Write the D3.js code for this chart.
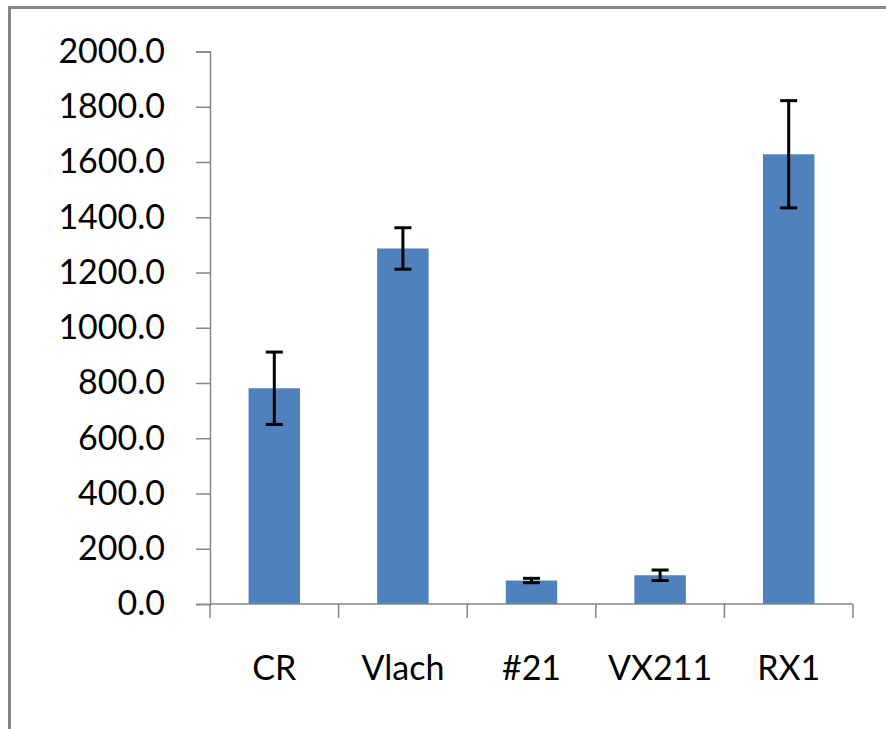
<!DOCTYPE html>
<html><head><meta charset="utf-8">
<script src="https://cdn.jsdelivr.net/npm/d3@7/dist/d3.min.js"></script>
<style>body{margin:0;background:#fff}svg{display:block}</style>
</head><body>
<svg id="c" width="886" height="729"></svg>
<script>
const categories = ["CR", "Vlach", "#21", "VX211", "RX1"];
const values = [781, 1287, 85, 104, 1628];
const errors = [131, 75, 8, 19, 194];
const yTicks = [0, 200, 400, 600, 800, 1000, 1200, 1400, 1600, 1800, 2000];

const svg = d3.select("#c");
const font = "Lato, 'Open Sans', sans-serif";

// chart frame
svg.append("rect").attr("x", 9.5).attr("y", 7.5).attr("width", 900).attr("height", 800)
  .attr("fill", "none").attr("stroke", "#868686").attr("stroke-width", 3);

const x = d3.scaleBand().domain(categories).range([210, 853]).paddingInner(0.6).paddingOuter(0.3);
const xTickScale = d3.scaleLinear().domain([0, categories.length]).range([210, 853]);
const y = d3.scaleLinear().domain([0, 2000]).range([604, 51.5]);

// bars
svg.selectAll("rect.bar").data(values).enter().append("rect")
  .attr("class", "bar")
  .attr("x", (d, i) => x(categories[i]))
  .attr("width", x.bandwidth())
  .attr("y", d => y(d))
  .attr("height", d => y(0) - y(d))
  .attr("fill", "#4F81BD");

// error bars
const eb = svg.append("g").attr("stroke", "#000").attr("stroke-width", 3);
values.forEach((v, i) => {
  const cx = x(categories[i]) + x.bandwidth() / 2;
  const e = errors[i];
  eb.append("line").attr("x1", cx).attr("x2", cx).attr("y1", y(v + e)).attr("y2", y(v - e));
  eb.append("line").attr("x1", cx - 8.5).attr("x2", cx + 8.5).attr("y1", y(v + e)).attr("y2", y(v + e));
  eb.append("line").attr("x1", cx - 8.5).attr("x2", cx + 8.5).attr("y1", y(v - e)).attr("y2", y(v - e));
});

// y axis
const yAxis = d3.axisLeft(y).tickValues(yTicks).tickFormat(d3.format(".1f")).tickSize(14).tickPadding(31);
const gy = svg.append("g").attr("transform", "translate(210,0)").call(yAxis);
gy.select(".domain").attr("stroke", "#868686").attr("stroke-width", 1.5);
gy.selectAll(".tick line").attr("stroke", "#868686").attr("stroke-width", 1.5);
gy.selectAll(".tick text").attr("font-family", font).attr("font-size", 34).attr("fill", "#000");

// x axis
const gx = svg.append("g").attr("transform", "translate(0,604)");
gx.append("line").attr("x1", 210).attr("x2", 853).attr("y1", 0).attr("y2", 0)
  .attr("stroke", "#868686").attr("stroke-width", 1.5);
d3.range(categories.length + 1).forEach(i => {
  gx.append("line").attr("x1", xTickScale(i)).attr("x2", xTickScale(i)).attr("y1", 0).attr("y2", 14)
    .attr("stroke", "#868686").attr("stroke-width", 1.5);
});
gx.selectAll("text").data(categories).enter().append("text")
  .attr("x", d => x(d) + x.bandwidth() / 2)
  .attr("y", 76)
  .attr("text-anchor", "middle")
  .attr("font-family", font).attr("font-size", 34).attr("fill", "#000")
  .text(d => d);
</script>
</body></html>
